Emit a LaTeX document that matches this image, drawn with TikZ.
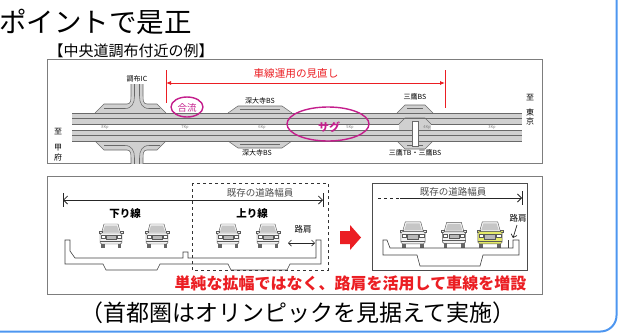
\documentclass[tikz,border=0pt]{standalone}
\usepackage{fontspec}
\setmainfont{Noto Sans CJK JP}
\usetikzlibrary{arrows.meta}

\definecolor{frameblue}{RGB}{77,150,240}
\definecolor{panelgray}{RGB}{125,125,125}
\definecolor{roadgray}{RGB}{208,208,208}
\definecolor{lanegray}{RGB}{105,105,105}
\definecolor{sagmag}{RGB}{196,30,140}
\definecolor{alertred}{RGB}{235,30,35}
\definecolor{caryellow}{RGB}{228,234,105}

\newcommand\pxsize[1]{\fontsize{#1}{#1}\selectfont}

% upper half of an interchange ramp (mirrored for the lower half)
\newcommand\icramp{%
  \fill[roadgray] (95,113.5) -- (104,104) -- (127,104) .. controls (131,104) and (131,100) .. (131,95)
    -- (131,84) -- (143,84) -- (143,95) .. controls (143,100) and (143,104) .. (147,104)
    -- (157,104) -- (166,113.5) -- cycle;
  \draw[laneline] (95,113) -- (104,104) -- (127,104) .. controls (131,104) and (131,100) .. (131,95) -- (131,84);
  \draw[laneline] (143,84) -- (143,95) .. controls (143,100) and (143,104) .. (147,104) -- (157,104) -- (166,113);
  \draw[laneline] (134.5,84) -- (134.5,96) .. controls (134.5,103) and (132,108.5) .. (125,108.5) -- (104,108.5);
  \draw[laneline] (139.5,84) -- (139.5,96) .. controls (139.5,103) and (142,108.5) .. (149,108.5) -- (160,108.5);
}

% bus bay bulging out of the upper carriageway
\newcommand\busbay[5]{%
  \fill[roadgray] (#1,113.5) -- (#2,#5) -- (#3,#5) -- (#4,113.5) -- cycle;
  \draw[laneline] (#1,113) -- (#2,#5) -- (#3,#5) -- (#4,113);
  \draw[laneline] ({#2+2},{#5+3.5}) -- ({#3-2},{#5+3.5});
}

\tikzset{
  panel/.style={draw=panelgray, line width=0.9pt},
  laneline/.style={draw=lanegray, line width=0.55pt},
  kp/.style={font=\pxsize{4}, text=gray, inner sep=0pt},
  roadlabel/.style={font=\pxsize{7}, inner sep=0pt},
  destlabel/.style={font=\pxsize{8}, inner sep=0pt},
  redlabel/.style={font=\pxsize{10.6}, text=alertred, inner sep=0pt},
  magring/.style={draw=sagmag, line width=1.4pt},
  maglabel/.style={text=sagmag, inner sep=0pt},
  widthlabel/.style={font=\pxsize{9.5}, text=black!70, inner sep=0pt},
  dirlabel/.style={font=\bfseries\pxsize{10.5}, inner sep=0pt},
  shoulder/.style={font=\pxsize{8.5}, inner sep=0pt},
  dimline/.style={line width=0.8pt, draw=black!85},
  barb/.style={{Straight Barb[length=4pt,width=8pt]}-{Straight Barb[length=4pt,width=8pt]}},
  carline/.style={draw=black!65, line width=0.45pt},
  carbody/.store in=\carbody, carbody=gray!12,
  car/.pic={
    \draw[carline, fill=gray!8] (-7,-12) -- (7,-12) -- (9.5,-3) -- (-9.5,-3) -- cycle;
    \fill[gray!45] (-6,-10.5) -- (6,-10.5) -- (8,-4.2) -- (-8,-4.2) -- cycle;
    \draw[carline, fill=\carbody] (-12,-4.5) rectangle (-9,-2.5);
    \draw[carline, fill=\carbody] (9,-4.5) rectangle (12,-2.5);
    \draw[carline, fill=\carbody, rounded corners=1.5pt] (-11,-3) rectangle (11,8);
    \draw[carline, fill=gray!55] (-5,-0.5) rectangle (5,3.5);
    \draw[carline, fill=white] (-10,-0.5) rectangle (-6,2);
    \draw[carline, fill=white] (6,-0.5) rectangle (10,2);
    \draw[carline] (-11,5.2) -- (11,5.2);
    \fill[black!60] (-10,8) rectangle (-6.5,12);
    \fill[black!60] (6.5,8) rectangle (10,12);
  },
  deck/.style={draw=black!75, line width=0.6pt}
}

\begin{document}
\begin{tikzpicture}[x=1pt,y=-1pt]
\useasboundingbox (0,0) rectangle (618,335);

% outer frame, only its lower right corner shows
\draw[frameblue, line width=2pt] (-40,331.5) -- (600.5,331.5)
  .. controls (609.3,331.5) and (616.5,324.3) .. (616.5,315.5) -- (616.5,-40);

% headings
\node[anchor=west, inner sep=0pt, font=\pxsize{27.5}] (title) at (-1,22) {ポイントで是正};
\node[inner sep=0pt, font=\pxsize{15}] (example) at (131,51) {【中央道調布付近の例】};

% ---------- plan view of the expressway ----------
\node[panel, minimum width=495pt, minimum height=104pt, inner sep=0pt] (planbox) at (294.5,111) {};

\begin{scope}
  \clip (47,59) rectangle (542,163);
  \fill[roadgray] (72,113) rectangle (522,124);
  \fill[roadgray] (72,130) rectangle (522,141);
  \icramp
  \busbay{228}{238}{282}{292}{106}
  \busbay{397}{405}{425}{433}{105}
  \begin{scope}[shift={(0,254)}, yscale=-1]
    \icramp
    \busbay{228}{238}{282}{292}{106}
    \busbay{397}{405}{425}{433}{105}
  \end{scope}
  \foreach \y in {113,118.5,124,130,135.5,141}
    \draw[laneline] (72,\y) -- (522,\y);
  % toll booth island at Mitaka
  \fill[roadgray] (399,124) rectangle (431,130);
  \draw[laneline] (399,124) -- (405,118) -- (425,118) -- (431,124);
  \draw[laneline, fill=white] (412,121) rectangle (418,146);
\end{scope}

% kilometre posts in the median
\node[kp] (kp8) at (105,127) {8Kp};
\node[kp] (kp7) at (185,127) {7Kp};
\node[kp] (kp6) at (262,127) {6Kp};
\node[kp] (kp5) at (350,127.5) {5Kp};
\node[kp] (kp4) at (427,127) {4Kp};
\node[kp] (kp3) at (492,127) {3Kp};

% place names
\node[roadlabel] (chofu) at (137,79) {調布IC};
\node[roadlabel] (jindaijiU) at (260,101) {深大寺BS};
\node[roadlabel] (jindaijiL) at (257,153) {深大寺BS};
\node[roadlabel] (mitakaU) at (415,97) {三鷹BS};
\node[roadlabel] (mitakaL) at (415,153) {三鷹TB・三鷹BS};
\node[destlabel] (toW) at (58,132) {至};
\node[destlabel] (kouW) at (58,147.5) {甲};
\node[destlabel] (fuW) at (58,157) {府};
\node[destlabel] (toE) at (530,98) {至};
\node[destlabel] (touE) at (530,112.5) {東};
\node[destlabel] (kyoE) at (530,121.5) {京};

% section where lane use is reviewed
\coordinate (revL) at (166,83);
\coordinate (revR) at (445,83);
\draw[alertred, line width=0.9pt] (166,70) -- (166,103);
\draw[alertred, line width=0.9pt] (445,70) -- (445,108);
\draw[alertred, line width=0.8pt, {Latex[length=5pt,width=4pt]}-{Latex[length=5pt,width=4pt]}] (revL) -- (revR);
\node[redlabel] (review) at (296,73) {車線運用の見直し};

% merge and sag
\draw[magring] (187,107) ellipse [x radius=16, y radius=10];
\node[maglabel, font=\pxsize{9.5}] (merge) at (187,107.5) {合流};
\draw[magring] (328,124) ellipse [x radius=41, y radius=17];
\node[maglabel, font=\bfseries\pxsize{11}] (sag) at (329,127) {サグ};

% ---------- cross sections ----------
\node[panel, minimum width=495pt, minimum height=118pt, inner sep=0pt] (secbox) at (294.5,235.5) {};

% existing section
\draw[black!80, line width=0.7pt, dashed] (192,183) rectangle (328,270);
\coordinate (dimL) at (63,200);
\coordinate (dimR) at (323,200);
\draw[dimline, barb] (dimL) -- (dimR);
\draw[dimline] (63,193) -- (63,207);
\draw[dimline] (323,193) -- (323,207);
\node[widthlabel] (widthA) at (260,193) {既存の道路幅員};
\node[dirlabel] (down) at (125,213) {下り線};
\node[dirlabel] (up) at (252,213) {上り線};
\pic (carA) at (111,236) {car};
\pic (carB) at (157,236) {car};
\pic (carC) at (228,236) {car};
\pic (carD) at (268,236) {car};
\node[shoulder] (shA) at (303,229) {路肩};
\coordinate (shAl) at (288,243);
\coordinate (shAr) at (315,243);
\draw[dimline, line width=0.7pt, {Straight Barb[length=3pt,width=6pt]}-{Straight Barb[length=3pt,width=6pt]}] (shAl) -- (shAr);
\draw[deck] (65,240) -- (70,240) -- (70,251) -- (75,258) -- (183,258) -- (183,252) -- (188,252) -- (188,258)
  -- (316,258) -- (316,240) -- (321,240) -- (321,264) -- (290,264) -- (287,270) -- (231,270) -- (228,264)
  -- (160,264) -- (157,270) -- (106,270) -- (103,264) -- (65,264) -- cycle;

% arrow to the new section
\fill[alertred] (340,231) -- (350,231) -- (350,225) -- (361,237.5) -- (350,250) -- (350,244) -- (340,244) -- cycle;

% new section
\node[draw=black!70, line width=0.9pt, minimum width=155pt, minimum height=87pt, inner sep=0pt] (newbox) at (449.5,226.5) {};
\coordinate (dimNL) at (400,198);
\coordinate (dimNR) at (522,198);
\draw[dimline, dashed] (378,198) -- (dimNL);
\draw[dimline, -{Straight Barb[length=4pt,width=8pt]}] (dimNL) -- (dimNR);
\draw[dimline] (522,191) -- (522,205);
\node[widthlabel] (widthB) at (453,192) {既存の道路幅員};
\pic[scale=1.1] (carE) at (413,235) {car};
\pic[scale=1.05] (carF) at (454,235) {car};
\pic[scale=1.1, carbody=caryellow] (carG) at (490,235) {car};
\node[shoulder] (shB) at (518,218) {路肩};
\coordinate (shBt) at (517,225);
\coordinate (shBb) at (513,238);
\draw[dimline, line width=0.7pt, -{Straight Barb[length=3pt,width=6pt]}] (shBt) -- (shBb);
\draw[deck] (508,240) -- (508,248);
\draw[deck] (383,240) -- (387,240) -- (390,248) -- (513,248) -- (513,240) -- (519,240) -- (519,255)
  -- (483,255) -- (480,266) -- (420,266) -- (417,255) -- (383,255) -- cycle;

\node[inner sep=0pt, text=alertred, font=\bfseries\pxsize{16}] (measure) at (350.5,283) {単純な拡幅ではなく、路肩を活用して車線を増設};

\node[inner sep=0pt, font=\pxsize{23}] (note) at (298,313) {（首都圏はオリンピックを見据えて実施）};
\end{tikzpicture}
\end{document}
